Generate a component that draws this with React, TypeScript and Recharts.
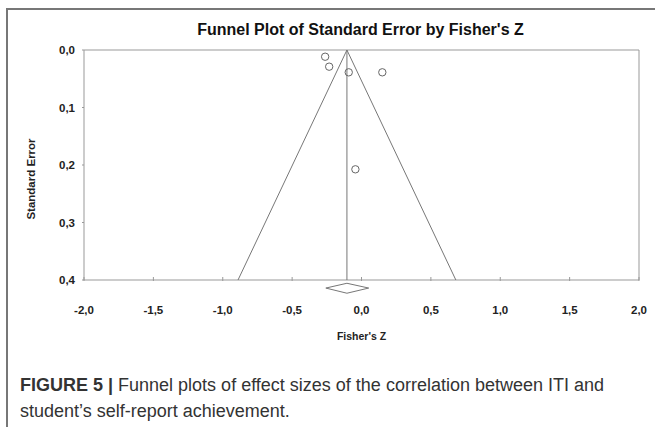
import React from 'react';
import { ScatterChart, Scatter, XAxis, YAxis, ReferenceLine } from 'recharts';

// Study effect sizes (Fisher's Z) and standard errors
const studyZ = [-0.262, -0.233, -0.092, 0.15, -0.044];
const studySE = [0.0117, 0.029, 0.0388, 0.0388, 0.2075];

// Pooled estimate and funnel limits
const meanZ = -0.105;
const funnelZ = [-0.89, -0.105, 0.68];
const funnelSE = [0.4, 0, 0.4];
const meanLineSE = [0, 0.4];

// Summary diamond
const diamondZ = [-0.257, -0.105, 0.052, -0.105];
const diamondSE = [0.414, 0.4057, 0.414, 0.423];

const xTicks = [-2, -1.5, -1, -0.5, 0, 0.5, 1, 1.5, 2];
const yTicks = [0, 0.1, 0.2, 0.3, 0.4];

const points = studyZ.map((z, i) => ({ z, se: studySE[i] }));
const funnel = funnelZ.map((z, i) => ({ z, se: funnelSE[i] }));
const meanLine = meanLineSE.map((se) => ({ z: meanZ, se }));
const diamondSegs = diamondZ.map((z, i) => {
  const j = (i + 1) % diamondZ.length;
  return [
    { x: z, y: diamondSE[i] },
    { x: diamondZ[j], y: diamondSE[j] },
  ];
});

const FONT = '"Liberation Sans", Arial, Helvetica, sans-serif';
const fmt = (v: number) => v.toFixed(1).replace('.', ',');

const XTick = (props: any) => {
  const { x, y, payload } = props;
  return (
    <g>
      <line x1={x} x2={x} y1={y - 3} y2={y + 1} stroke="#999" />
      <text x={x} y={y + 34} textAnchor="middle" fontSize={11.5} fontWeight="bold" fill="#222" fontFamily={FONT}>
        {fmt(payload.value)}
      </text>
    </g>
  );
};

const YTick = (props: any) => {
  const { x, y, payload } = props;
  return (
    <g>
      <line x1={x - 2} x2={x} y1={y} y2={y} stroke="#999" />
      <text x={x - 9} y={y + 4} textAnchor="end" fontSize={11.5} fontWeight="bold" fill="#222" fontFamily={FONT}>
        {fmt(payload.value)}
      </text>
    </g>
  );
};

const NoShape = () => <g />;

const Circle = (props: any) => {
  const { cx, cy } = props;
  return <circle cx={cx} cy={cy} r={3.7} fill="none" stroke="#666" strokeWidth={1} />;
};

export default function App() {
  return (
    <div style={{ position: 'absolute', left: 0, top: 0, width: 655, height: 427, background: '#fff', overflow: 'hidden' }}>
      <div
        style={{
          position: 'absolute',
          left: 6,
          top: 8,
          width: 660,
          height: 430,
          borderLeft: '2px solid #777',
          borderTop: '2px solid #777',
        }}
      />
      <div
        style={{
          position: 'absolute',
          left: 0,
          width: 721,
          top: 21,
          textAlign: 'center',
          fontFamily: FONT,
          fontWeight: 'bold',
          fontSize: 16,
          color: '#111',
          lineHeight: '18px',
        }}
      >
        Funnel Plot of Standard Error by Fisher's Z
      </div>
      <div style={{ position: 'absolute', left: 0, top: 0 }}>
        <ScatterChart width={655} height={427} margin={{ top: 50, right: 16, bottom: 0, left: 0 }}>
          <XAxis
            type="number"
            dataKey="z"
            domain={[-2, 2]}
            ticks={xTicks}
            interval={0}
            tickSize={0}
            tickMargin={0}
            tickLine={false}
            tick={<XTick />}
            height={147}
            axisLine={{ stroke: '#999' }}
            label={(p: any) => {
              const vb = p.viewBox;
              return (
                <text x={vb.x + vb.width / 2} y={vb.y + 60} textAnchor="middle" fontSize={10.5} fontWeight="bold" fill="#222" fontFamily={FONT}>
                  Fisher's Z
                </text>
              );
            }}
          />
          <YAxis
            type="number"
            dataKey="se"
            domain={[0, 0.4]}
            reversed
            ticks={yTicks}
            interval={0}
            tickSize={0}
            tickMargin={0}
            tickLine={false}
            tick={<YTick />}
            width={84}
            axisLine={{ stroke: '#999' }}
            label={(p: any) => {
              const vb = p.viewBox;
              const cx = vb.x + 31;
              const cy = vb.y + vb.height / 2 + 14;
              return (
                <text x={cx} y={cy} transform={`rotate(-90 ${cx} ${cy})`} textAnchor="middle" dominantBaseline="central" fontSize={11.5} fontWeight="bold" fill="#222" fontFamily={FONT}>
                  Standard Error
                </text>
              );
            }}
          />
          <ReferenceLine y={0} stroke="#999" />
          <ReferenceLine x={2} stroke="#999" />
          <Scatter data={funnel} line={{ stroke: '#777', strokeWidth: 1 }} shape={<NoShape />} isAnimationActive={false} />
          <Scatter data={meanLine} line={{ stroke: '#777', strokeWidth: 1 }} shape={<NoShape />} isAnimationActive={false} />
          <Scatter data={points} shape={<Circle />} isAnimationActive={false} />
          {diamondSegs.map((seg, i) => (
            <ReferenceLine key={i} segment={seg} stroke="#777" strokeWidth={1} ifOverflow="visible" />
          ))}
        </ScatterChart>
      </div>
      <div
        style={{
          position: 'absolute',
          left: 20,
          top: 372,
          fontFamily: FONT,
          fontSize: 18,
          lineHeight: '26px',
          color: '#333',
          whiteSpace: 'nowrap',
        }}
      >
        <b>FIGURE 5 |</b> Funnel plots of effect sizes of the correlation between ITI and
        <br />
        student’s self-report achievement.
      </div>
    </div>
  );
}
